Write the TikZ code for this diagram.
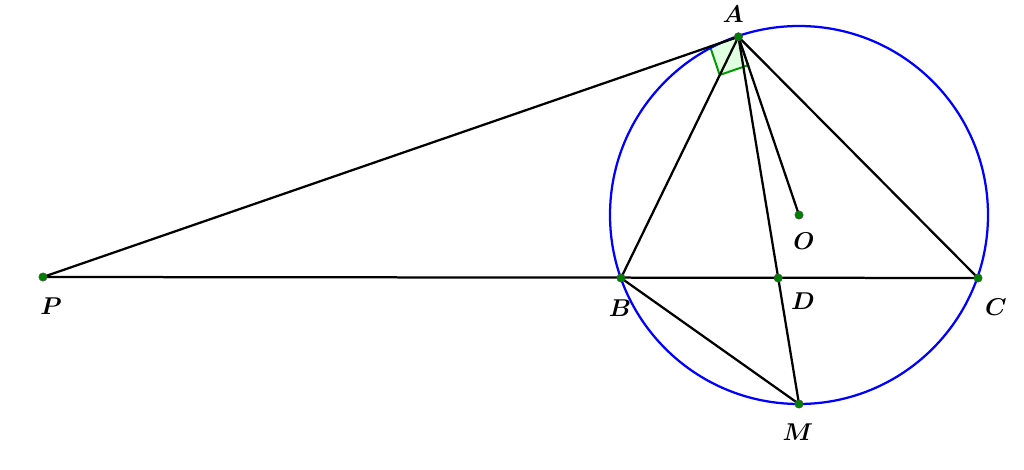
\documentclass[tikz,border=0pt]{standalone}
\usepackage{amsmath,bm}
\usetikzlibrary{calc}

\tikzset{
  punt/.style = {circle, fill = green!50!black, draw = black!70, line width = 0.3pt, inner sep = 0pt, minimum size = 6pt},
  etiqueta/.style = {font = \LARGE, inner sep = 1pt},
  recta/.style = {line width = 1.6pt, black}
}

\begin{document}
\begin{tikzpicture}
			\useasboundingbox (0,0) rectangle (25.6,11.75);
			% punts
			\coordinate (O) at (19.975, 6.375);
			\coordinate (A) at (18.46, 10.83);
			\coordinate (B) at (15.525, 4.8);
			\coordinate (C) at (24.45, 4.8);
			\coordinate (M) at (19.975, 1.65);
			\coordinate (P) at (1.075, 4.825);
			\coordinate (D) at (intersection of A--M and B--C);
			% angle recte
			\coordinate (aP) at ($(A)!0.75cm!(P)$);
			\coordinate (aO) at ($(A)!0.75cm!(O)$);
			\draw[fill = green!12, draw = green!60!black, line width = 1.4pt]
				(A) -- (aP) -- ($(aP)+(aO)-(A)$) -- (aO) -- cycle;
			% cercle
			\draw[color = blue, line width = 1.6pt] (O) circle (4.725);
			% rectes
			\draw[recta] (P) -- (A);
			\draw[recta] (P) -- (C);
			\draw[recta] (A) -- (B);
			\draw[recta] (A) -- (C);
			\draw[recta] (A) -- (M);
			\draw[recta] (A) -- (O);
			\draw[recta] (B) -- (M);
			% punts i etiquetes
			\foreach \p in {A, B, C, D, M, O, P}
				\node[punt] (n\p) at (\p) {};
			\node[etiqueta] (lA) at (18.33, 11.4) {$\bm{A}$};
			\node[etiqueta] (lO) at (20.1, 5.73) {$\bm{O}$};
			\node[etiqueta] (lP) at (1.275, 4.1) {$\bm{P}$};
			\node[etiqueta] (lB) at (15.5, 4.05) {$\bm{B}$};
			\node[etiqueta] (lD) at (20.075, 4.225) {$\bm{D}$};
			\node[etiqueta] (lC) at (24.9, 4.075) {$\bm{C}$};
			\node[etiqueta] (lM) at (19.95, 0.95) {$\bm{M}$};
\end{tikzpicture}
\end{document}
